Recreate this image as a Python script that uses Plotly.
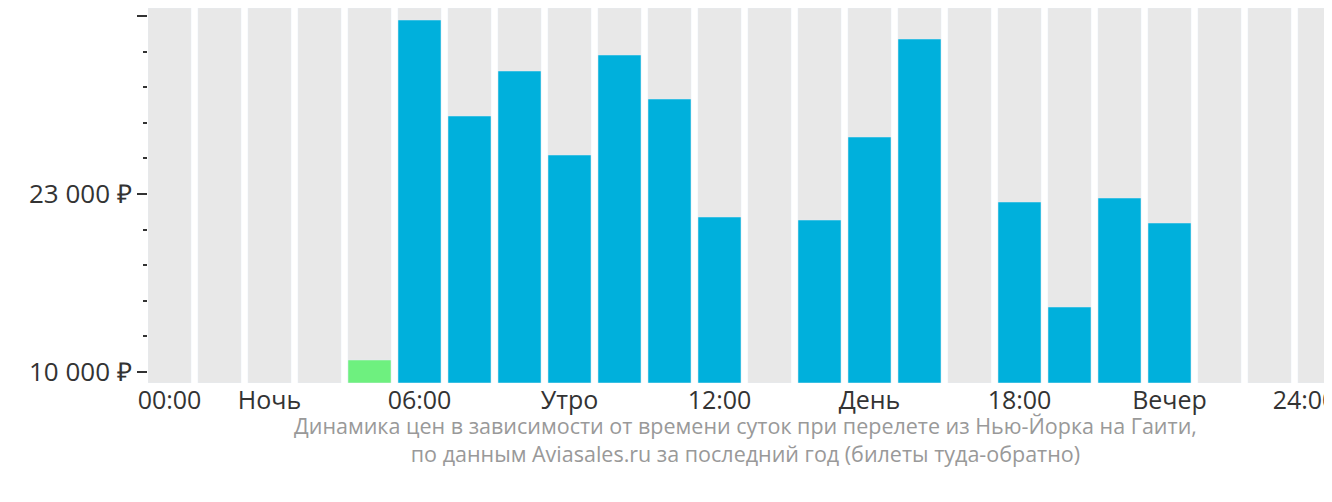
import plotly.graph_objects as go

hours = list(range(24))
prices = [None, None, None, None, 10876, 35707, 28696, 31983, 25848, 33151, 29938, 21320,
          None, 21100, 27162, 34320, None, 22415, 14747, 22707, 20882, None, None, None]
cheapest_index = 4
xtick_pos = [0, 2, 5, 8, 11, 14, 17, 20, 22.7]
xtick_text = ["00:00", "Ночь", "06:00", "Утро", "12:00", "День", "18:00", "Вечер", "24:00"]
ytick_vals = [10000, 23000, 36000]
ytick_text = ["10 000 ₽", "23 000 ₽", "36 000 ₽"]

ymin, ymax = 9197, 36584

colors = ["#6ef07f" if i == cheapest_index else "#00b0dc" for i in hours]
fig = go.Figure()
fig.add_bar(x=hours, y=[ymax - ymin] * 24, base=ymin, marker_color="#e8e8e8",
            width=0.86, hoverinfo="skip")
fig.add_bar(x=hours, y=[(p - ymin) if p else None for p in prices], base=ymin,
            marker_color=colors, width=0.86)
fig.update_layout(
    barmode="overlay", showlegend=False, width=1332, height=502,
    plot_bgcolor="white", paper_bgcolor="white",
    margin=dict(l=140, r=0, t=0, b=127, autoexpand=False),
    font=dict(family="Open Sans", size=20, color="#333"),
    xaxis=dict(range=[-0.43, 23.41], tickvals=xtick_pos, ticktext=xtick_text, automargin=False,
               showgrid=False, zeroline=False, ticks="", tickfont=dict(size=25)),
    yaxis=dict(range=[ymin, ymax], tickvals=ytick_vals, ticktext=ytick_text, automargin=False,
               showgrid=False, zeroline=False, ticks="outside", ticklen=10,
               tickcolor="#333", tickwidth=2, tickfont=dict(size=26),
               minor=dict(tickvals=[12600, 15200, 17800, 20400, 25600, 28200, 30800, 33400],
                          ticks="outside", ticklen=4, tickcolor="#333", tickwidth=2)),
    annotations=[dict(text="Динамика цен в зависимости от времени суток при перелете из Нью-Йорка на Гаити,<br>по данным Aviasales.ru за последний год (билеты туда-обратно)",
                      xref="paper", yref="paper", x=(737 - 140) / 1192, y=-(462 - 375) / 375,
                      showarrow=False, font=dict(size=21.5, color="#999"), align="center")]
)
fig.write_html("out.html")
